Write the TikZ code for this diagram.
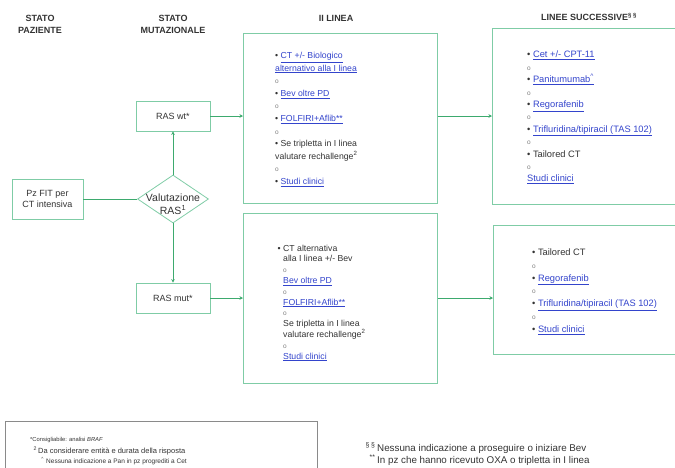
\documentclass[tikz,border=0pt]{standalone}
\usepackage{fontspec}
\setmainfont{Liberation Sans}
\usetikzlibrary{shapes.geometric,arrows.meta}
\definecolor{conn}{HTML}{3DAA6E}
\definecolor{boxline}{HTML}{7FCCA6}
\definecolor{linkblue}{HTML}{3344CC}
\definecolor{txt}{HTML}{333333}
\definecolor{noteline}{HTML}{8A8A8A}
\newcommand\lnk[1]{\textcolor{linkblue}{\underline{#1}}}
\newcommand\subo{{\color{gray}\fontsize{6.5}{6.5}\selectfont o}}
\newcommand\bul{\textbullet\ }
\tikzset{
  panel/.style={draw=boxline, line width=0.8pt, fill=white, inner sep=0pt},
  smallbox/.style={draw=boxline, line width=0.8pt, fill=white, align=center,
    font=\fontsize{9}{11}\selectfont, text=txt},
  header/.style={font=\fontsize{9}{11.5}\selectfont\bfseries, text=txt, align=center},
  listtext/.style={anchor=north west, inner sep=0pt, align=left, text=txt},
  arr/.style={draw=conn, line width=0.8pt, -{Stealth[length=3.5pt,width=3.5pt]}},
  plain/.style={draw=conn, line width=0.8pt},
  note/.style={anchor=west, inner sep=0pt, text=txt}
}
\begin{document}
\begin{tikzpicture}[x=1pt,y=-1pt]
\useasboundingbox (0,0) rectangle (675,467);

% column headings
\node[header] (hpz) at (40,24.5) {STATO\\PAZIENTE};
\node[header] (hmut) at (173,24.5) {STATO\\MUTAZIONALE};
\node[header] (hlin2) at (336,18) {II LINEA};
\node[header] (hsucc) at (589,17) {LINEE SUCCESSIVE\textsuperscript{§ §}};

% patient and mutational status
\node[smallbox, minimum width=71pt, minimum height=40pt] (pz) at (47.5,199) {Pz FIT per\\CT intensiva};
\node[draw=boxline, line width=0.8pt, fill=white, shape=diamond, inner sep=0pt,
      minimum width=71pt, minimum height=48pt] (val) at (173,199) {};
\node[align=center, font=\fontsize{10.5}{13}\selectfont, text=txt, inner sep=0pt]
      (valtxt) at (173,204) {Valutazione\\RAS\textsuperscript{1}};
\node[smallbox, minimum width=74pt, minimum height=30pt] (wt) at (173,116) {RAS wt*};
\node[smallbox, minimum width=74pt, minimum height=30pt] (mut) at (173,298) {RAS mut*};

% second-line panels
\node[panel, anchor=north west, minimum width=194pt, minimum height=170pt] (l2a) at (243,33) {};
\node[panel, anchor=north west, minimum width=194pt, minimum height=170pt] (l2b) at (243,213) {};
% later-line panels
\node[panel, anchor=north west, minimum width=190pt, minimum height=176pt] (lsa) at (492,28) {};
\node[panel, anchor=north west, minimum width=190pt, minimum height=129pt] (lsb) at (493,225) {};

% panel contents
\node[listtext, font=\fontsize{8.7}{12.6}\selectfont] (t2a) at (275,52) {%
\bul\lnk{CT +/- Biologico}\\
\lnk{alternativo alla I linea}\\
\subo\\
\bul\lnk{Bev oltre PD}\\
\subo\\
\bul\lnk{FOLFIRI+Aflib**}\\
\subo\\
\bul Se tripletta in I linea\\
valutare rechallenge\textsuperscript{2}\\
\subo\\
\bul\lnk{Studi clinici}};

\node[listtext, font=\fontsize{8.7}{10.8}\selectfont] (t2b) at (283,244.5) {%
\llap{\bul}CT alternativa\\
alla I linea +/- Bev\\
\subo\\
\lnk{Bev oltre PD}\\
\subo\\
\lnk{FOLFIRI+Aflib**}\\
\subo\\
Se tripletta in I linea\\
valutare rechallenge\textsuperscript{2}\\
\subo\\
\lnk{Studi clinici}};

\node[listtext, font=\fontsize{9.3}{12.4}\selectfont] (tsa) at (527,51) {%
\bul\lnk{Cet +/- CPT-11}\\
\subo\\
\bul\lnk{Panitumumab\textsuperscript{\^{}}}\\
\subo\\
\bul\lnk{Regorafenib}\\
\subo\\
\bul\lnk{Trifluridina/tipiracil (TAS 102)}\\
\subo\\
\bul Tailored CT\\
\subo\\
\lnk{Studi clinici}};

\node[listtext, font=\fontsize{9.3}{12.8}\selectfont] (tsb) at (532,248.5) {%
\bul Tailored CT\\
\subo\\
\bul\lnk{Regorafenib}\\
\subo\\
\bul\lnk{Trifluridina/tipiracil (TAS 102)}\\
\subo\\
\bul\lnk{Studi clinici}};

% connectors
\draw[plain] (pz.east) -- (val.west);
\draw[arr] (val.north) -- (wt.south);
\draw[arr] (val.south) -- (mut.north);
\draw[arr] (wt.east) -- (wt.east -| l2a.west);
\draw[arr] (mut.east) -- (mut.east -| l2b.west);
\draw[arr] (wt.east -| l2a.east) -- (wt.east -| lsa.west);
\draw[arr] (mut.east -| l2b.east) -- (mut.east -| lsb.west);

% footnotes
\node[draw=noteline, line width=0.6pt, anchor=north west, minimum width=312pt,
      minimum height=60pt, inner sep=0pt] (notebox) at (5,421) {};
\node[note, font=\fontsize{5.8}{7}\selectfont] (n1) at (30,440) {*Consigliabile: analisi \textit{BRAF}};
\node[note, font=\fontsize{7.5}{8}\selectfont] (n2) at (38,451) {\llap{\textsuperscript{2}\,}Da considerare entità e durata della risposta};
\node[note, font=\fontsize{6.5}{8}\selectfont] (n3) at (46,461) {\llap{\textsuperscript{\^{}}\,\,}Nessuna indicazione a Pan in pz progrediti a Cet};
\node[note, font=\fontsize{9.8}{12}\selectfont] (n4) at (377,448) {\llap{\textsuperscript{§ §}\,}Nessuna indicazione a proseguire o iniziare Bev};
\node[note, font=\fontsize{9.8}{12}\selectfont] (n5) at (377,460) {\llap{\textsuperscript{**}\,}In pz che hanno ricevuto OXA o tripletta in I linea};
\end{tikzpicture}
\end{document}
